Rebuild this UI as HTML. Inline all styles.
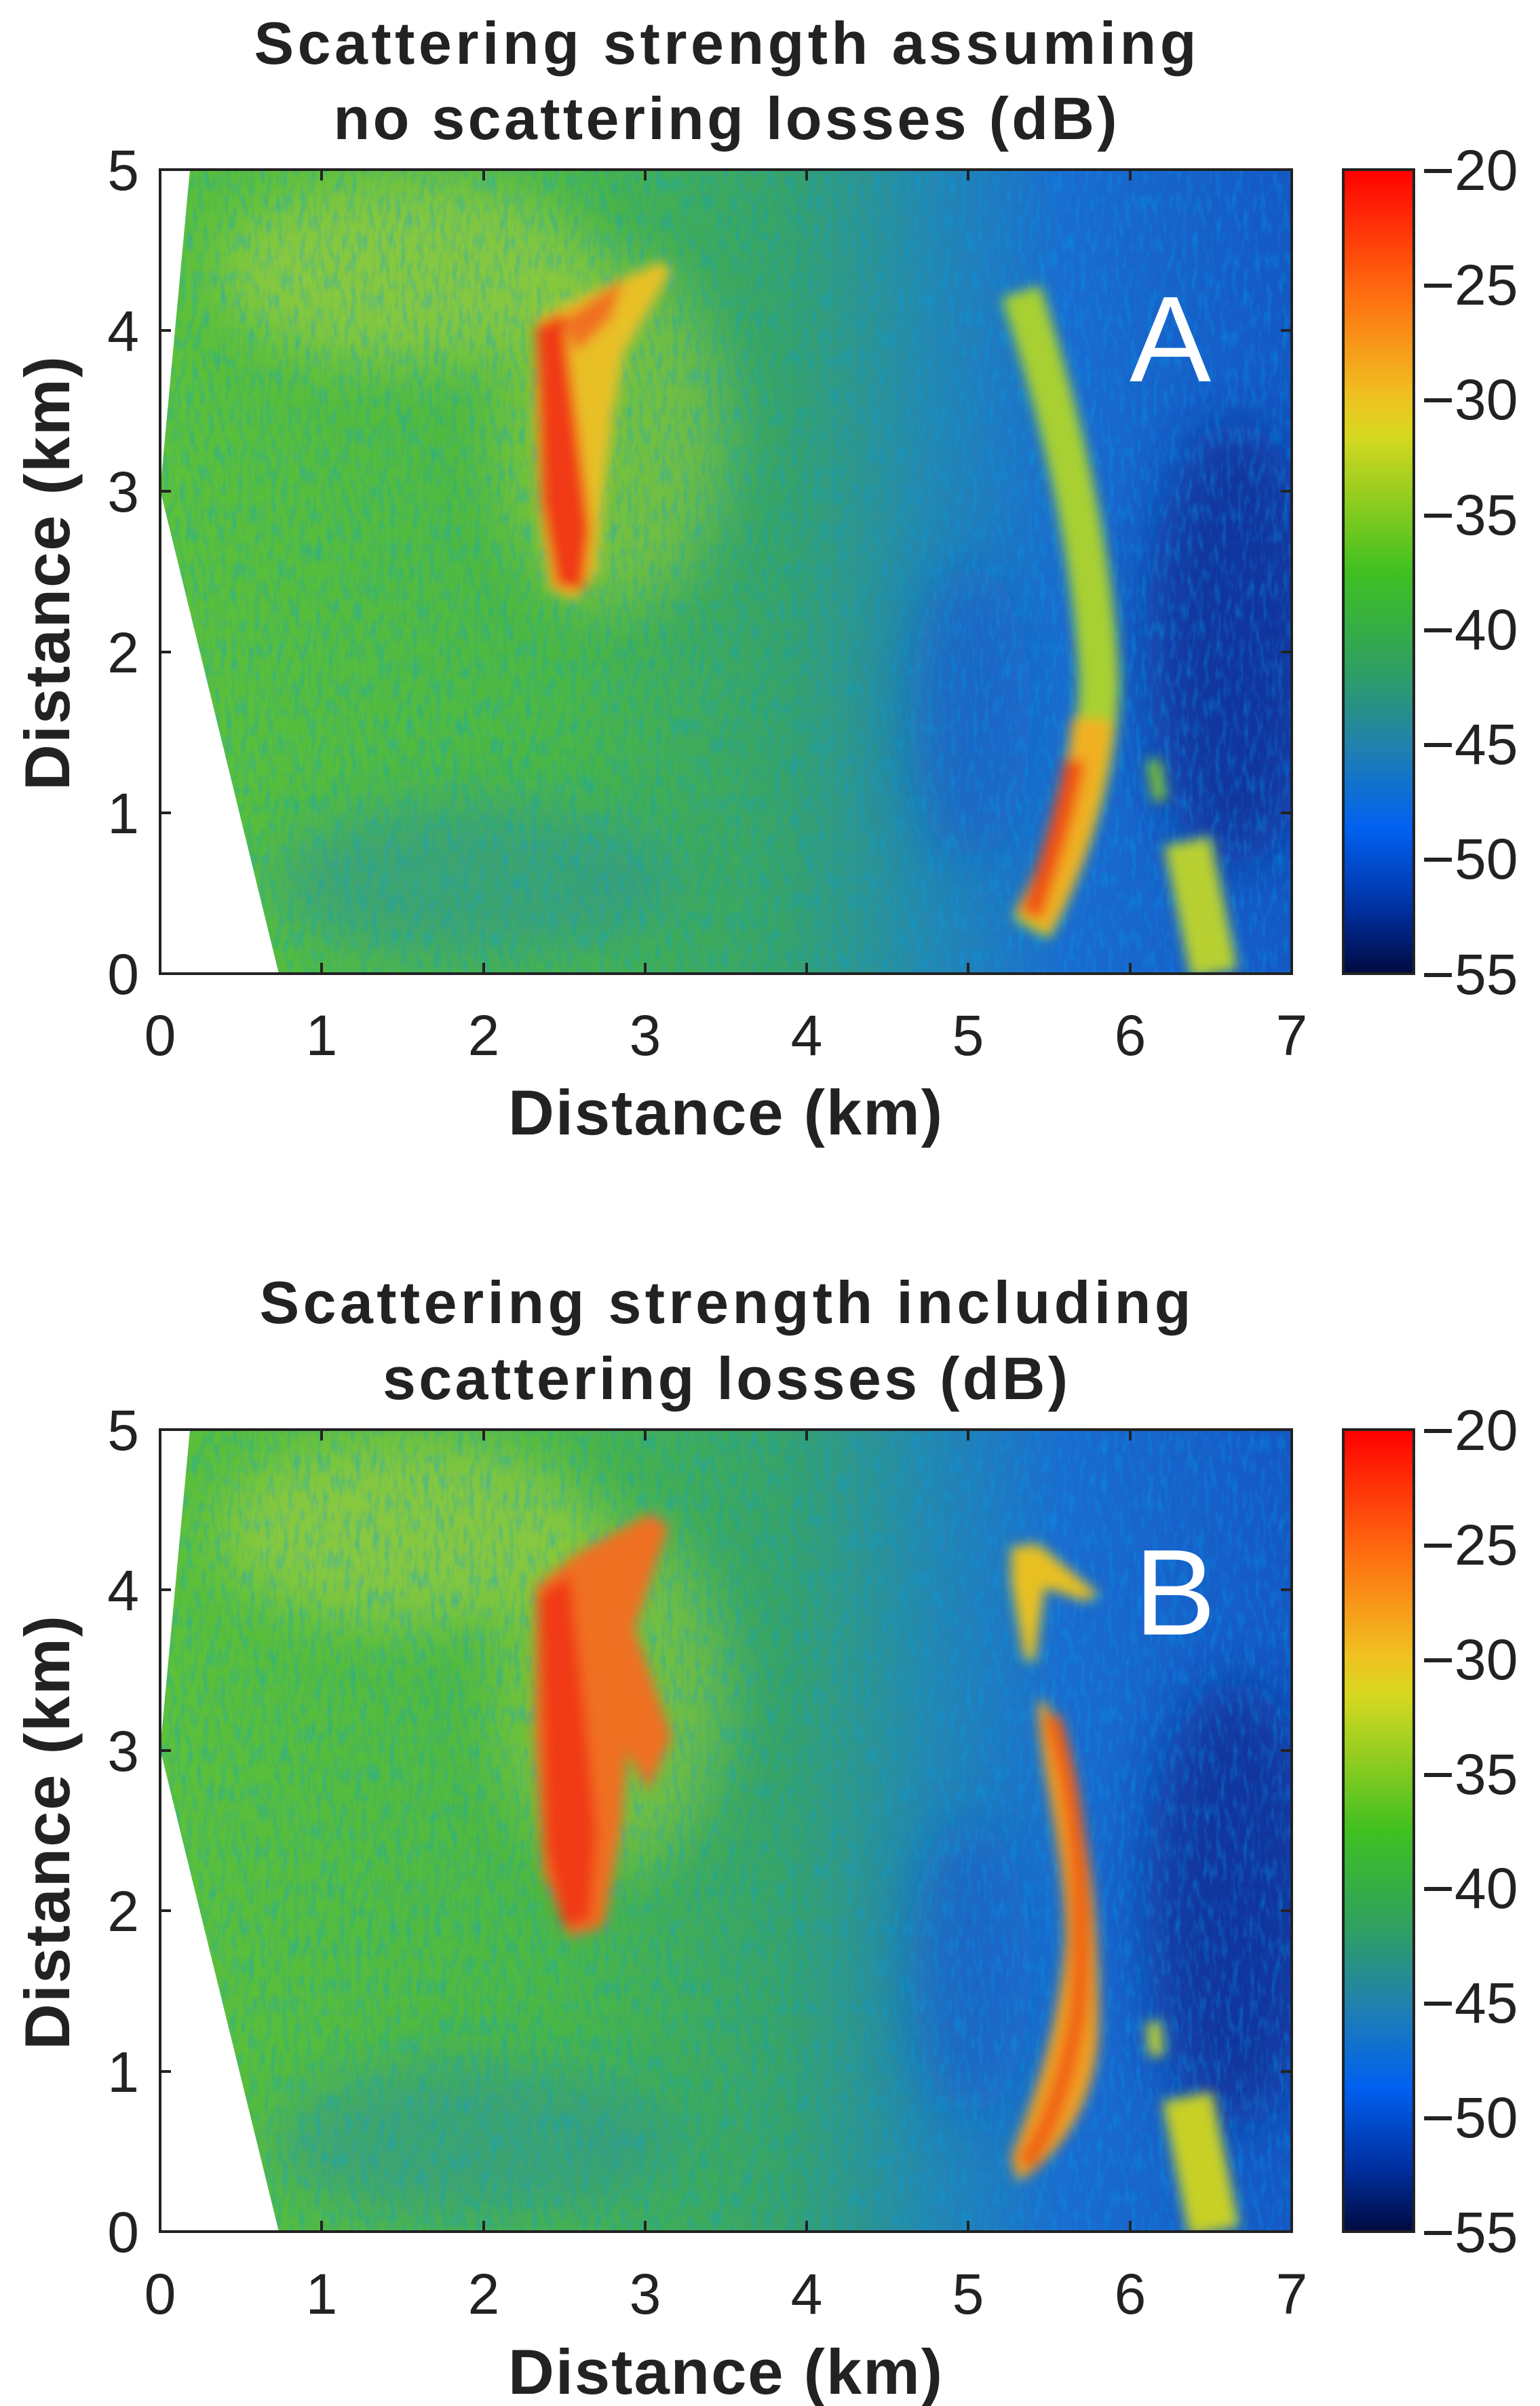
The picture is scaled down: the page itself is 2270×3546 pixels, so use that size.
<!DOCTYPE html>
<html><head><meta charset="utf-8"><style>
html,body{margin:0;padding:0;background:#fff;}
svg{display:block;}
text{font-family:"Liberation Sans","DejaVu Sans",sans-serif;fill:#222;}
.t{font-size:88px;font-weight:bold;}
.k{font-size:84px;}
.l{font-size:94px;font-weight:bold;}
</style></head><body>
<svg width="2270" height="3546" viewBox="0 0 2270 3546" xmlns="http://www.w3.org/2000/svg">
<defs>
<linearGradient id="bg" x1="0" y1="0" x2="1" y2="0">
<stop offset="0" stop-color="#5cc03a"/><stop offset="0.35" stop-color="#4cb844"/>
<stop offset="0.55" stop-color="#38a468"/><stop offset="0.68" stop-color="#2488b0"/>
<stop offset="0.8" stop-color="#1a6cd0"/><stop offset="1" stop-color="#1458c4"/>
</linearGradient>
<linearGradient id="cb" x1="0" y1="0" x2="0" y2="1">
<stop offset="0" stop-color="#ff0000"/><stop offset="0.15" stop-color="#ff6a10"/>
<stop offset="0.28" stop-color="#f0c020"/><stop offset="0.33" stop-color="#d8d820"/>
<stop offset="0.5" stop-color="#40c020"/><stop offset="0.62" stop-color="#30a060"/>
<stop offset="0.72" stop-color="#2080b0"/><stop offset="0.82" stop-color="#0060f0"/>
<stop offset="0.92" stop-color="#0030a0"/><stop offset="1" stop-color="#000a40"/>
</linearGradient>
<filter id="b1" x="-50%" y="-50%" width="200%" height="200%"><feGaussianBlur stdDeviation="40"/></filter>
<filter id="b2" x="-50%" y="-50%" width="200%" height="200%"><feGaussianBlur stdDeviation="9"/></filter>
<filter id="nz"><feTurbulence type="fractalNoise" baseFrequency="0.12 0.035" numOctaves="2" seed="3"/><feColorMatrix values="0 0 0 0 0  0 0 0 0 0.35  0 0 0 0 0.85  0 0 0 1.6 -0.7"/></filter>
<clipPath id="c1"><rect x="236" y="250" width="1668" height="1185"/></clipPath>
<clipPath id="c2"><rect x="236" y="2107" width="1668" height="1182"/></clipPath>
</defs>

<!-- ===== Plot A ===== -->
<g clip-path="url(#c1)">
<rect x="236" y="250" width="1668" height="1185" fill="url(#bg)"/>
<g filter="url(#b1)">
<ellipse cx="600" cy="400" rx="280" ry="140" fill="#a8d040" opacity="0.6"/>
<ellipse cx="1820" cy="950" rx="130" ry="330" fill="#0a2a90" opacity="0.75"/>
<ellipse cx="1430" cy="1050" rx="90" ry="220" fill="#1050d0" opacity="0.5"/>
<ellipse cx="900" cy="640" rx="170" ry="260" fill="#a0d030" opacity="0.5"/>
<ellipse cx="700" cy="1300" rx="300" ry="120" fill="#2a90a0" opacity="0.5"/>
</g>
<rect x="236" y="250" width="1668" height="1185" filter="url(#nz)" opacity="0.55"/>
<g filter="url(#b2)">
<path d="M790,470 L850,440 L975,385 L990,400 L920,520 L905,605 L890,724 L880,842 L850,885 L810,870 L795,760 L788,600 Z" fill="#e8c028"/>
<path d="M790,480 L830,460 L850,620 L870,780 L860,870 L820,865 L798,740 Z" fill="#f03a18"/>
<path d="M830,470 L920,410 L900,470 L850,520 Z" fill="#f07020"/>
<path d="M1505,430 C1560,600 1610,800 1620,1000 C1620,1150 1560,1300 1520,1370" stroke="#a8d030" stroke-width="60" fill="none"/>
<path d="M1610,1060 C1600,1180 1560,1300 1520,1360" stroke="#f0b020" stroke-width="60" fill="none"/>
<path d="M1585,1120 C1565,1220 1540,1290 1520,1350" stroke="#f05018" stroke-width="30" fill="none"/>
<path d="M1750,1240 L1790,1435" stroke="#b8d030" stroke-width="70" fill="none"/>
<path d="M1700,1120 L1710,1180" stroke="#80c030" stroke-width="20"/>
</g>
<polygon points="236,250 280,250 236,722" fill="#fff"/>
<polygon points="236,722 411,1435 236,1435" fill="#fff"/>
</g>
<rect x="236" y="250" width="1668" height="1185" fill="none" stroke="#222" stroke-width="4"/>
<text x="1665" y="562" font-size="180" style="fill:#fff;font-family:'Liberation Sans',sans-serif">A</text>

<!-- ===== Plot B ===== -->
<g clip-path="url(#c2)">
<rect x="236" y="2107" width="1668" height="1182" fill="url(#bg)"/>
<g filter="url(#b1)">
<ellipse cx="600" cy="2257" rx="280" ry="140" fill="#a8d040" opacity="0.6"/>
<ellipse cx="1820" cy="2807" rx="130" ry="330" fill="#0a2a90" opacity="0.75"/>
<ellipse cx="1430" cy="2900" rx="90" ry="220" fill="#1050d0" opacity="0.5"/>
<ellipse cx="900" cy="2497" rx="170" ry="260" fill="#a0d030" opacity="0.5"/>
<ellipse cx="700" cy="3157" rx="300" ry="120" fill="#2a90a0" opacity="0.5"/>
</g>
<rect x="236" y="2107" width="1668" height="1182" filter="url(#nz)" opacity="0.55"/>
<g filter="url(#b2)">
<path d="M790,2337 L850,2290 L960,2230 L985,2250 L935,2400 L990,2560 L955,2640 L925,2580 L915,2700 L890,2840 L840,2855 L800,2760 L788,2550 Z" fill="#f07020"/>
<path d="M795,2350 L840,2320 L860,2500 L880,2700 L870,2830 L830,2840 L805,2720 Z" fill="#f03a18"/>
<path d="M1490,2280 L1530,2275 L1620,2350 L1600,2360 L1540,2340 L1525,2450 L1510,2445 L1490,2330 Z" fill="#e8c020"/>
<path d="M1540,2505 C1600,2640 1620,2800 1620,2980 C1620,3100 1560,3180 1500,3215 L1490,3180 C1520,3100 1560,3000 1570,2860 C1570,2720 1530,2600 1530,2510 Z" fill="#f0a020"/>
<path d="M1550,2530 C1590,2660 1600,2800 1590,2960 C1570,3080 1540,3150 1510,3190" stroke="#f06018" stroke-width="26" fill="none"/>
<path d="M1750,3090 L1790,3289" stroke="#c8d028" stroke-width="75" fill="none"/>
<path d="M1700,2980 L1705,3030" stroke="#c0d030" stroke-width="22"/>
</g>
<polygon points="236,2107 280,2107 236,2578" fill="#fff"/>
<polygon points="236,2578 411,3289 236,3289" fill="#fff"/>
</g>
<rect x="236" y="2107" width="1668" height="1182" fill="none" stroke="#222" stroke-width="4"/>
<text x="1672" y="2409" font-size="180" style="fill:#fff;font-family:'Liberation Sans',sans-serif">B</text>

<!-- colorbars -->
<rect x="1980" y="250" width="104" height="1185" fill="url(#cb)" stroke="#222" stroke-width="4"/>
<rect x="1980" y="2107" width="104" height="1182" fill="url(#cb)" stroke="#222" stroke-width="4"/>

<!-- ticks -->
<g stroke="#222" stroke-width="4">
<path d="M474,1435v-16M713,1435v-16M951,1435v-16M1189,1435v-16M1427,1435v-16M1666,1435v-16M474,250v16M713,250v16M951,250v16M1189,250v16M1427,250v16M1666,250v16"/>
<path d="M236,1198h16M236,961h16M236,724h16M236,487h16M1904,1198h-16M1904,961h-16M1904,724h-16M1904,487h-16"/>
<path d="M474,3289v-16M713,3289v-16M951,3289v-16M1189,3289v-16M1427,3289v-16M1666,3289v-16M474,2107v16M713,2107v16M951,2107v16M1189,2107v16M1427,2107v16M1666,2107v16"/>
<path d="M236,3053h16M236,2816h16M236,2580h16M236,2343h16M1904,3053h-16M1904,2816h-16M1904,2580h-16M1904,2343h-16"/>
</g>

<!-- titles -->
<text class="t" x="1069" y="94" text-anchor="middle" textLength="1389">Scattering strength assuming</text>
<text class="t" x="1069" y="205" text-anchor="middle" textLength="1155">no scattering losses (dB)</text>
<text class="t" x="1069" y="1950" text-anchor="middle" textLength="1373">Scattering strength including</text>
<text class="t" x="1069" y="2062" text-anchor="middle" textLength="1010">scattering losses (dB)</text>

<!-- x tick labels -->
<g class="k" text-anchor="middle">
<text x="236" y="1555">0</text><text x="474" y="1555">1</text><text x="713" y="1555">2</text><text x="951" y="1555">3</text><text x="1189" y="1555">4</text><text x="1427" y="1555">5</text><text x="1666" y="1555">6</text><text x="1904" y="1555">7</text>
<text x="236" y="3410">0</text><text x="474" y="3410">1</text><text x="713" y="3410">2</text><text x="951" y="3410">3</text><text x="1189" y="3410">4</text><text x="1427" y="3410">5</text><text x="1666" y="3410">6</text><text x="1904" y="3410">7</text>
</g>
<!-- y tick labels -->
<g class="k" text-anchor="end">
<text x="205" y="1465">0</text><text x="205" y="1228">1</text><text x="205" y="991">2</text><text x="205" y="754">3</text><text x="205" y="517">4</text><text x="205" y="280">5</text>
<text x="205" y="3319">0</text><text x="205" y="3083">1</text><text x="205" y="2846">2</text><text x="205" y="2610">3</text><text x="205" y="2373">4</text><text x="205" y="2137">5</text>
</g>
<!-- colorbar labels -->
<g class="k">
<text x="2095" y="280">−20</text><text x="2095" y="449">−25</text><text x="2095" y="618">−30</text><text x="2095" y="788">−35</text><text x="2095" y="957">−40</text><text x="2095" y="1126">−45</text><text x="2095" y="1295">−50</text><text x="2095" y="1465">−55</text>
<text x="2095" y="2137">−20</text><text x="2095" y="2306">−25</text><text x="2095" y="2475">−30</text><text x="2095" y="2644">−35</text><text x="2095" y="2812">−40</text><text x="2095" y="2981">−45</text><text x="2095" y="3150">−50</text><text x="2095" y="3319">−55</text>
</g>
<!-- axis labels -->
<text class="l" x="1069" y="1672" text-anchor="middle" textLength="640">Distance (km)</text>
<text class="l" x="1069" y="3528" text-anchor="middle" textLength="640">Distance (km)</text>
<text class="l" transform="translate(102,845) rotate(-90)" text-anchor="middle" textLength="640">Distance (km)</text>
<text class="l" transform="translate(102,2701) rotate(-90)" text-anchor="middle" textLength="640">Distance (km)</text>
</svg>
</body></html>
